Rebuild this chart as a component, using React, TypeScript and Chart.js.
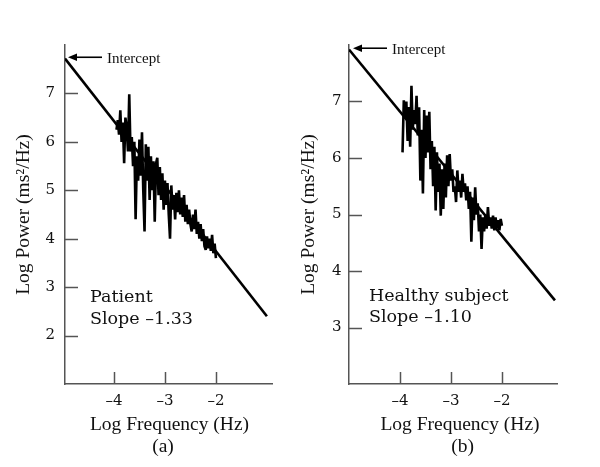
import React, { useEffect, useRef } from "react";
import { Chart, registerables } from "chart.js";

Chart.register(...registerables);

// ---------- data ----------
const freqGrid = [
  -3.95, -3.925, -3.9, -3.875, -3.85, -3.825, -3.8, -3.775, -3.75, -3.725,
  -3.7, -3.675, -3.65, -3.625, -3.6, -3.575, -3.55, -3.525, -3.5, -3.475,
  -3.45, -3.425, -3.4, -3.375, -3.35, -3.325, -3.3, -3.275, -3.25, -3.225,
  -3.2, -3.175, -3.15, -3.125, -3.1, -3.075, -3.05, -3.025, -3.0, -2.975,
  -2.95, -2.925, -2.9, -2.875, -2.85, -2.825, -2.8, -2.775, -2.75, -2.725,
  -2.7, -2.675, -2.65, -2.625, -2.6, -2.575, -2.55, -2.525, -2.5, -2.475,
  -2.45, -2.425, -2.4, -2.375, -2.35, -2.325, -2.3, -2.275, -2.25, -2.225,
  -2.2, -2.175, -2.15, -2.125, -2.1, -2.075, -2.05, -2.025, -2.0,
];

const powerPatient = [
  6.25, 6.45, 6.15, 6.65, 6.0, 6.4, 5.56, 6.5, 6.3, 5.8,
  6.98, 5.8, 6.1, 5.5, 6.0, 4.4, 5.7, 5.2, 6.05, 5.3,
  6.2, 5.0, 4.15, 5.95, 5.2, 5.9, 4.8, 5.7, 5.0, 5.6,
  4.35, 5.55, 5.67, 4.9, 5.48, 4.8, 5.35, 4.6, 5.2, 4.7,
  5.15, 4.5, 4.0, 5.1, 4.6, 4.9, 4.4, 4.95, 4.55, 5.0,
  4.5, 4.85, 4.45, 4.9, 4.35, 4.7, 4.3, 4.6, 4.3, 4.15,
  4.5, 4.2, 4.6, 4.1, 4.35, 4.0, 4.3, 3.95, 4.2, 3.85,
  3.77, 4.05, 3.8, 4.0, 3.75, 4.08, 3.7, 3.9, 3.6,
];

const powerHealthy = [
  6.1, 7.02, 6.7, 7.0, 6.3, 6.9, 6.2, 7.28, 6.5, 6.85,
  6.6, 7.1, 6.4, 6.9, 5.6, 6.5, 5.37, 6.85, 6.0, 6.75,
  6.1, 6.82, 5.8, 6.3, 5.5, 6.2, 5.07, 6.1, 5.4, 5.9,
  4.98, 5.8, 5.1, 5.9, 5.3, 6.05, 5.5, 6.07, 5.6, 5.8,
  5.4, 5.5, 5.22, 5.78, 5.4, 5.6, 5.3, 5.72, 5.4, 5.55,
  5.25, 5.5, 5.1, 5.4, 4.52, 5.3, 4.9, 5.48, 5.0, 5.2,
  4.7, 5.0, 4.39, 4.95, 4.7, 5.0, 4.75, 5.13, 4.8, 4.95,
  4.75, 4.98, 4.72, 4.95, 4.75, 4.9, 4.72, 4.92, 4.8,
];

const fitXPatient = [-4.96, -1.0];
const fitYPatient = [7.72, 2.4];
const fitXHealthy = [-5.0, -0.96];
const fitYHealthy = [7.92, 3.48];

const xTickValues = [-4, -3, -2];
const yTicksPatient = [2, 3, 4, 5, 6, 7];
const yTicksHealthy = [3, 4, 5, 6, 7];

const xTitle = "Log Frequency (Hz)";
const yTitle = "Log Power (ms\u00b2/Hz)";
const interceptLabel = "Intercept";
const notesPatient = ["Patient", "Slope \u20131.33"];
const notesHealthy = ["Healthy subject", "Slope \u20131.10"];

// ---------- styles ----------
const AXIS_COLOR = "#555";
const TEXT_COLOR = "#111";
const TIMES = "'Liberation Serif', 'Times New Roman', serif";
const SCHOOL = "'DejaVu Serif', serif";

const fmtTick = (v: number) => (v < 0 ? "\u2013" + Math.abs(v) : String(v));

type PanelCfg = {
  canvasLeft: number;
  canvasWidth: number;
  yAxisWidth: number;
  padRight: number;
  xMin: number;
  xMax: number;
  yMin: number;
  yMax: number;
  yTicks: number[];
  power: number[];
  fitX: number[];
  fitY: number[];
  notes: string[];
  notesX: number;
  notesY: number[];
  panelLabel: string;
  xTitleX: number;
  panelLabelX: number;
  yTitlePad: number;
  yLabelPad: number;
  arrowTip: number;
};

const panels: PanelCfg[] = [
  {
    canvasLeft: 0,
    canvasWidth: 290,
    yAxisWidth: 65,
    padRight: 18,
    xMin: -4.96,
    xMax: -0.9,
    yMin: 1,
    yMax: 8,
    yTicks: yTicksPatient,
    power: powerPatient,
    fitX: fitXPatient,
    fitY: fitYPatient,
    notes: notesPatient,
    notesX: 90,
    notesY: [301.5, 323.5],
    panelLabel: "(a)",
    xTitleX: 169.5,
    panelLabelX: 163,
    yTitlePad: 12.3,
    yLabelPad: 10,
    arrowTip: 3,
  },
  {
    canvasLeft: 290,
    canvasWidth: 310,
    yAxisWidth: 59,
    padRight: 43,
    xMin: -5.0,
    xMax: -0.92,
    yMin: 2,
    yMax: 8,
    yTicks: yTicksHealthy,
    power: powerHealthy,
    fitX: fitXHealthy,
    fitY: fitYHealthy,
    notes: notesHealthy,
    notesX: 79,
    notesY: [300.7, 322.3],
    panelLabel: "(b)",
    xTitleX: 170,
    panelLabelX: 172.5,
    yTitlePad: 7.3,
    yLabelPad: 7.5,
    arrowTip: 4,
  },
];

function makeDecor(cfg: PanelCfg) {
  return {
    id: "decor",
    afterDraw(chart: any) {
      const { ctx, chartArea, scales } = chart;
      const xs = scales.x;
      const ys = scales.y;
      ctx.save();
      // inward ticks
      ctx.strokeStyle = AXIS_COLOR;
      ctx.lineWidth = 1.5;
      xs.ticks.forEach((t: any) => {
        const px = Math.round(xs.getPixelForValue(t.value)) + 0.5;
        ctx.beginPath();
        ctx.moveTo(px, chartArea.bottom);
        ctx.lineTo(px, chartArea.bottom - 12);
        ctx.stroke();
      });
      ys.ticks.forEach((t: any) => {
        const py = Math.round(ys.getPixelForValue(t.value)) + 0.5;
        ctx.beginPath();
        ctx.moveTo(chartArea.left, py);
        ctx.lineTo(chartArea.left + 13, py);
        ctx.stroke();
      });

      // intercept arrow
      const ay = ys.getPixelForValue(cfg.fitY[0]) - 1.3;
      const tipX = chartArea.left + cfg.arrowTip;
      ctx.strokeStyle = "#000";
      ctx.fillStyle = "#000";
      ctx.lineWidth = 1.6;
      ctx.beginPath();
      ctx.moveTo(tipX + 6, ay);
      ctx.lineTo(tipX + 34, ay);
      ctx.stroke();
      ctx.beginPath();
      ctx.moveTo(tipX, ay);
      ctx.lineTo(tipX + 9, ay - 3.8);
      ctx.lineTo(tipX + 9, ay + 3.8);
      ctx.closePath();
      ctx.fill();
      ctx.font = `15px ${TIMES}`;
      ctx.textAlign = "left";
      ctx.textBaseline = "alphabetic";
      ctx.fillStyle = TEXT_COLOR;
      ctx.fillText(interceptLabel, tipX + 39, ay + 5.4);

      // notes
      ctx.font = `17.5px ${SCHOOL}`;
      cfg.notes.forEach((line, i) => {
        ctx.fillText(line, cfg.notesX, cfg.notesY[i]);
      });

      // x title and panel label
      ctx.font = `19.5px ${TIMES}`;
      ctx.textAlign = "center";
      ctx.textBaseline = "middle";
      ctx.fillText(xTitle, cfg.xTitleX, 425);
      ctx.fillText(cfg.panelLabel, cfg.panelLabelX, 446.5);
      ctx.restore();
    },
  };
}

function Panel({ cfg }: { cfg: PanelCfg }) {
  const ref = useRef<HTMLCanvasElement>(null);
  useEffect(() => {
    const canvas = ref.current;
    if (!canvas) return;
    const chart = new Chart(canvas, {
      type: "scatter",
      data: {
        datasets: [
          {
            data: freqGrid.map((x, i) => ({ x, y: cfg.power[i] })),
            showLine: true,
            borderColor: "#000",
            borderWidth: 2.6,
            borderJoinStyle: "bevel",
            pointRadius: 0,
            tension: 0,
          },
          {
            data: cfg.fitX.map((x, i) => ({ x, y: cfg.fitY[i] })),
            showLine: true,
            borderColor: "#000",
            borderWidth: 2.6,
            pointRadius: 0,
            tension: 0,
          },
        ],
      },
      options: {
        responsive: false,
        animation: false,
        devicePixelRatio: 1,
        layout: { padding: { top: 45, right: cfg.padRight, bottom: 0, left: 0 } },
        plugins: {
          legend: { display: false },
          tooltip: { enabled: false },
        },
        scales: {
          x: {
            type: "linear",
            min: cfg.xMin,
            max: cfg.xMax,
            afterBuildTicks: (s: any) => {
              s.ticks = xTickValues.map((v) => ({ value: v }));
            },
            afterFit: (s: any) => {
              s.height = 83;
            },
            grid: { display: false, drawTicks: false },
            border: { display: true, color: AXIS_COLOR, width: 1.5 },
            ticks: {
              padding: 8,
              color: TEXT_COLOR,
              font: { family: SCHOOL, size: 15 },
              maxRotation: 0,
              callback: (v: any) => fmtTick(Number(v)),
            },
          },
          y: {
            type: "linear",
            min: cfg.yMin,
            max: cfg.yMax,
            afterBuildTicks: (s: any) => {
              s.ticks = cfg.yTicks.map((v) => ({ value: v }));
            },
            afterFit: (s: any) => {
              s.width = cfg.yAxisWidth;
            },
            grid: { display: false, drawTicks: false },
            border: { display: true, color: AXIS_COLOR, width: 1.5 },
            ticks: {
              padding: cfg.yLabelPad,
              color: TEXT_COLOR,
              font: { family: SCHOOL, size: 15 },
              callback: (v: any) => fmtTick(Number(v)),
            },
            title: {
              display: true,
              text: yTitle,
              color: TEXT_COLOR,
              font: { family: TIMES, size: 19.5, lineHeight: 1.2 },
              padding: { top: cfg.yTitlePad, bottom: 0 },
            },
          },
        },
      },
      plugins: [makeDecor(cfg)],
    } as any);
    return () => chart.destroy();
  }, [cfg]);
  return (
    <canvas
      ref={ref}
      width={cfg.canvasWidth}
      height={467}
      style={{
        position: "absolute",
        left: cfg.canvasLeft,
        top: 0,
        width: cfg.canvasWidth,
        height: 467,
      }}
    />
  );
}

export default function App() {
  return (
    <div
      style={{
        position: "absolute",
        left: 0,
        top: 0,
        width: 600,
        height: 467,
        background: "#fff",
        overflow: "hidden",
      }}
    >
      {panels.map((p) => (
        <Panel key={p.panelLabel} cfg={p} />
      ))}
    </div>
  );
}
